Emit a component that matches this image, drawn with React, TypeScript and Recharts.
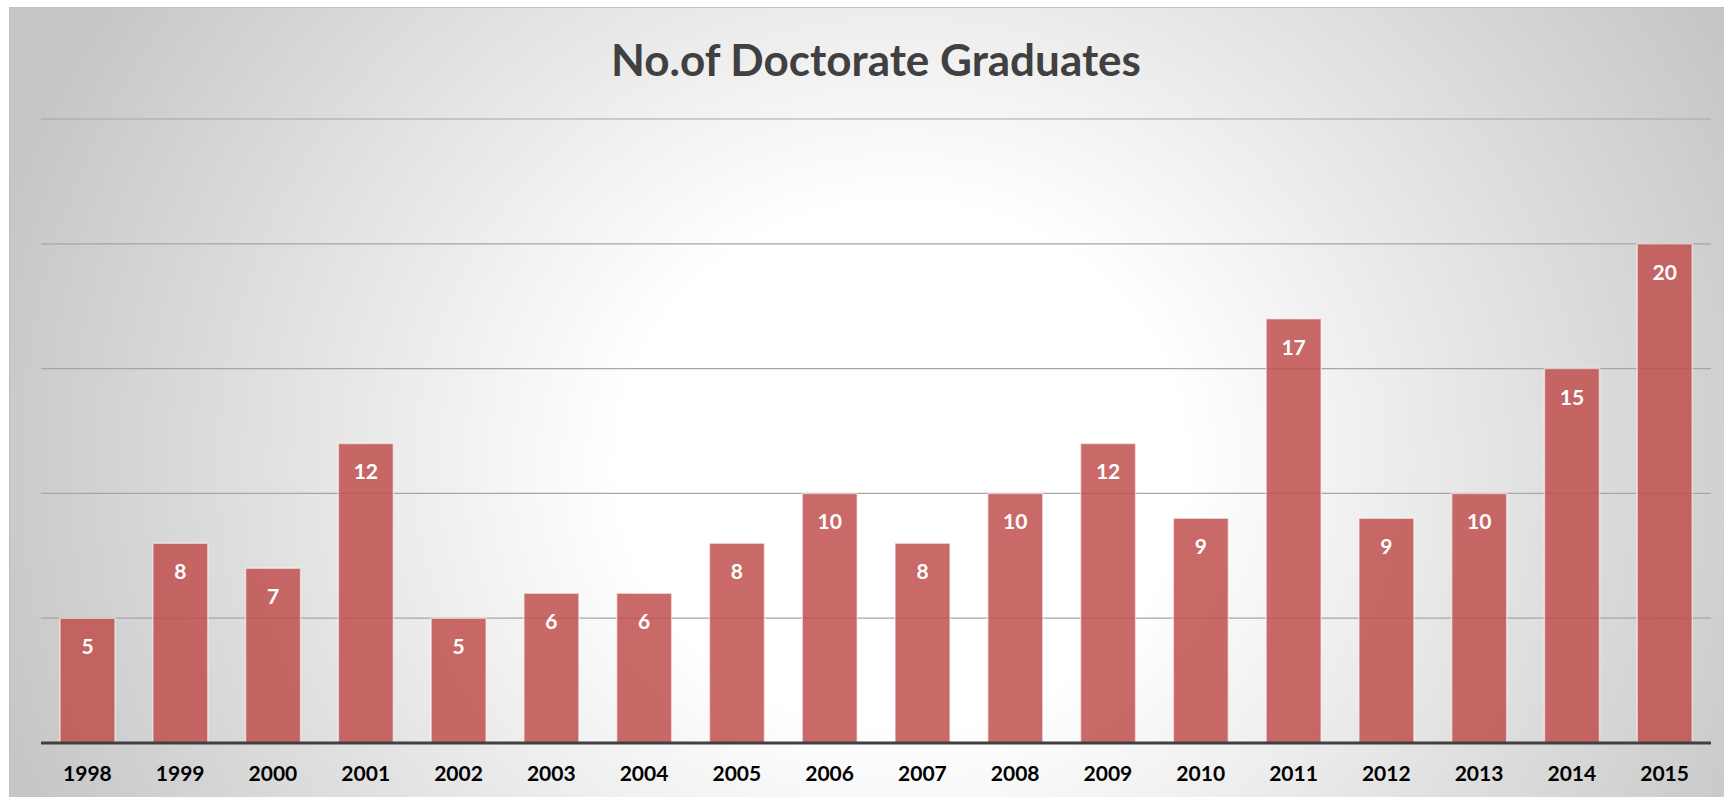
import { BarChart, Bar, XAxis, YAxis, CartesianGrid, LabelList } from "recharts";

const years = [
  "1998", "1999", "2000", "2001", "2002", "2003", "2004", "2005", "2006",
  "2007", "2008", "2009", "2010", "2011", "2012", "2013", "2014", "2015",
];
const graduates = [5, 8, 7, 12, 5, 6, 6, 8, 10, 8, 10, 12, 9, 17, 9, 10, 15, 20];
const yTicks = [0, 5, 10, 15, 20, 25];

const data = years.map((year, i) => ({ year, graduates: graduates[i] }));

const font = "Lato, 'Open Sans', sans-serif";

export default function App() {
  return (
    <div
      style={{
        position: "absolute",
        left: 9,
        top: 7,
        width: 1715,
        height: 790,
        borderTop: "1px solid #c0c0c0",
        borderLeft: "1px solid #c0c0c0",
        boxSizing: "border-box",
        background:
          "radial-gradient(ellipse 55% 110% at 52% 58%, #ffffff 0%, #ffffff 30%, #c6c6c6 100%)",
        fontFamily: font,
      }}
    >
      <div
        style={{
          position: "absolute",
          left: 31,
          top: 29,
          width: 1670,
          textAlign: "center",
          fontSize: 44,
          lineHeight: "44px",
          fontWeight: 700,
          color: "#404040",
        }}
      >
        No.of Doctorate Graduates
      </div>
      <BarChart
        width={1715}
        height={790}
        data={data}
        margin={{ top: 111, right: 14, bottom: 15, left: 31 }}
        barCategoryGap="20.5%"
      >
        <CartesianGrid vertical={false} stroke="#a6a6a6" strokeWidth={1.2} />
        <YAxis hide domain={[0, 25]} ticks={yTicks} />
        <XAxis
          dataKey="year"
          height={40}
          axisLine={{ stroke: "#404040", strokeWidth: 3 }}
          tickLine={false}
          tick={{ fill: "#000000", fontSize: 21, fontWeight: 700, fontFamily: font }}
          dy={15}
        />
        <Bar
          dataKey="graduates"
          fill="#C0504D"
          fillOpacity={0.85}
          stroke="rgba(255,255,255,0.55)"
          strokeWidth={1.5}
          isAnimationActive={false}
        >
          <LabelList
            dataKey="graduates"
            position="insideTop"
            offset={21}
            fill="#ffffff"
            fontSize={21}
            fontWeight={700}
            fontFamily={font}
          />
        </Bar>
      </BarChart>
    </div>
  );
}
